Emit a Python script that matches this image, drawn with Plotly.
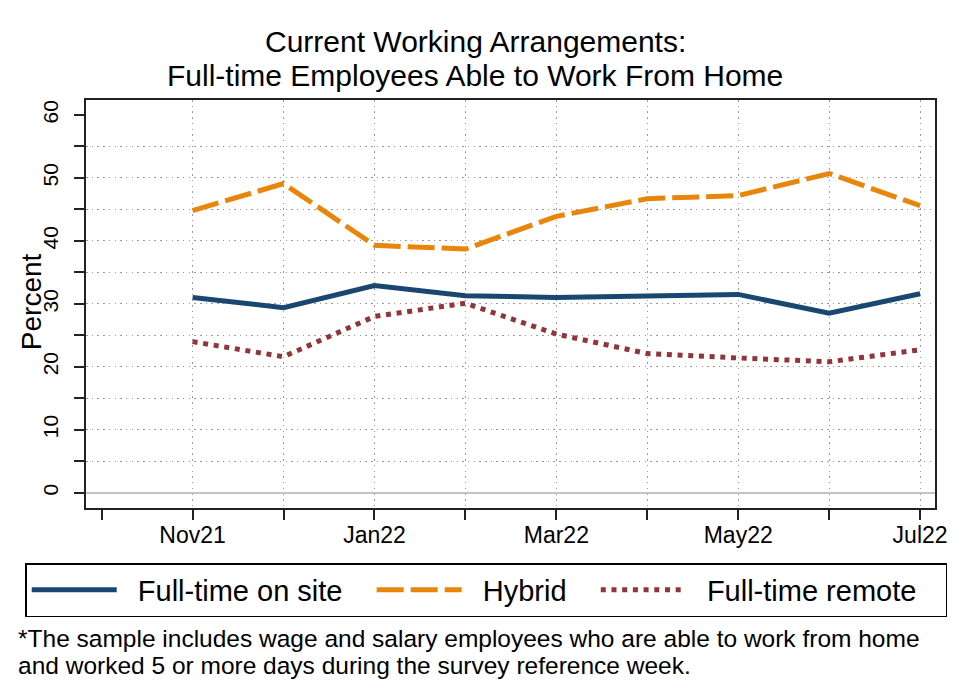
import plotly.graph_objects as go

months = ["Oct21", "Nov21", "Dec21", "Jan22", "Feb22", "Mar22", "Apr22", "May22", "Jun22", "Jul22"]
label_months = ["Nov21", "Jan22", "Mar22", "May22", "Jul22"]
data_months = months[1:]

on_site = [31.0, 29.4, 32.9, 31.3, 31.0, 31.3, 31.5, 28.5, 31.6]
hybrid = [44.8, 49.1, 39.3, 38.7, 43.9, 46.7, 47.2, 50.7, 45.6]
remote = [24.0, 21.6, 28.0, 30.1, 25.2, 22.1, 21.4, 20.8, 22.7]

y_ticks = list(range(0, 61, 5))
y_labels = [str(v) if v % 10 == 0 else "" for v in y_ticks]
y_grid = list(range(5, 56, 5))

title_lines = ["Current Working Arrangements:", "Full-time Employees Able to Work From Home"]
y_title = "Percent"
note_lines = ["*The sample includes wage and salary employees who are able to work from home",
              "and worked 5 or more days during the survey reference week."]

idx = {m: i - 1 for i, m in enumerate(months)}
xs = [idx[m] for m in data_months]

FONT = "Liberation Sans, Arial, Helvetica, sans-serif"
NB = "\u00a0"

fig = go.Figure()
fig.add_trace(go.Scatter(x=xs, y=on_site, mode="lines", name=NB * 2 + "Full-time on site" + NB * 3,
                         line=dict(color="#1a476f", width=5)))
fig.add_trace(go.Scatter(x=xs, y=hybrid, mode="lines", name=NB * 2 + "Hybrid" + NB * 3,
                         line=dict(color="#e8850a", width=5, dash="27px,7px")))
fig.add_trace(go.Scatter(x=xs, y=remote, mode="lines", name=NB * 2 + "Full-time remote" + NB * 3,
                         line=dict(color="#90353b", width=5, dash="5px,5.7px")))
# invisible trace to host grid axes
fig.add_trace(go.Scatter(x=[None], y=[None], xaxis="x2", yaxis="y2", showlegend=False,
                         hoverinfo="skip"))

xr = [-1.172, 8.164]
yr = [-2.43, 62.38]

W, H = 952, 688
ML, MR, MT, MB = 78, 22, 92, 188
PH = H - MT - MB
PW = W - ML - MR


def py(f):
    return (H - MB - f) / PH


def px(f):
    return (f - ML) / PW


GRID = "#9a9a9a"
fig.update_layout(
    width=W, height=H,
    paper_bgcolor="white", plot_bgcolor="white",
    font=dict(family=FONT, color="black"),
    margin=dict(l=ML, r=MR, t=MT, b=MB),
    xaxis=dict(range=xr, tickmode="array", tickvals=[idx[m] for m in months],
               ticktext=[m if m in label_months else "" for m in months],
               ticks="outside", ticklen=10, tickwidth=2, tickcolor="#222",
               showgrid=False, zeroline=False, showline=True, mirror=True,
               linecolor="#222", linewidth=2, tickfont=dict(size=23),
               ticklabelstandoff=-5),
    yaxis=dict(range=yr, tickmode="array", tickvals=y_ticks, ticktext=y_labels,
               tickangle=-90, ticks="outside", ticklen=10, tickwidth=2, tickcolor="#222",
               showgrid=False, zeroline=True, zerolinecolor="#c4c4c4", zerolinewidth=2,
               showline=True, mirror=True, linecolor="#222", linewidth=2,
               tickfont=dict(size=21), ticklabelstandoff=8),
    xaxis2=dict(range=xr, overlaying="x", tickmode="array", tickvals=[idx[m] for m in data_months],
                showticklabels=False, ticks="", showgrid=True, gridcolor=GRID,
                griddash="1.5px,4.2px", gridwidth=1, zeroline=False, showline=False),
    yaxis2=dict(range=yr, overlaying="y", tickmode="array", tickvals=y_grid,
                showticklabels=False, ticks="", showgrid=True, gridcolor=GRID,
                griddash="1.5px,4.2px", gridwidth=1, zeroline=False, showline=False),
    legend=dict(orientation="h", x=px(17), xanchor="left", y=py(555), yanchor="top",
                bordercolor="black", borderwidth=1.5, font=dict(size=29),
                itemwidth=85, traceorder="normal"),
    showlegend=True,
)

for text, f in zip(title_lines, [33.5, 67]):
    fig.add_annotation(text=text, xref="paper", yref="paper", x=px(468.5), y=py(f),
                       xanchor="center", yanchor="middle", showarrow=False,
                       font=dict(size=30, family=FONT, color="black"))

fig.add_annotation(text=y_title, xref="paper", yref="paper", x=px(23), y=py(294),
                   xanchor="center", yanchor="middle", textangle=-90, showarrow=False,
                   font=dict(size=28, family=FONT, color="black"))

for text, f in zip(note_lines, [630.5, 657]):
    fig.add_annotation(text=text, xref="paper", yref="paper", x=px(8), y=py(f),
                       xanchor="left", yanchor="middle", align="left", showarrow=False,
                       font=dict(size=24.5, family=FONT, color="black"))

fig.write_html("out.html")
